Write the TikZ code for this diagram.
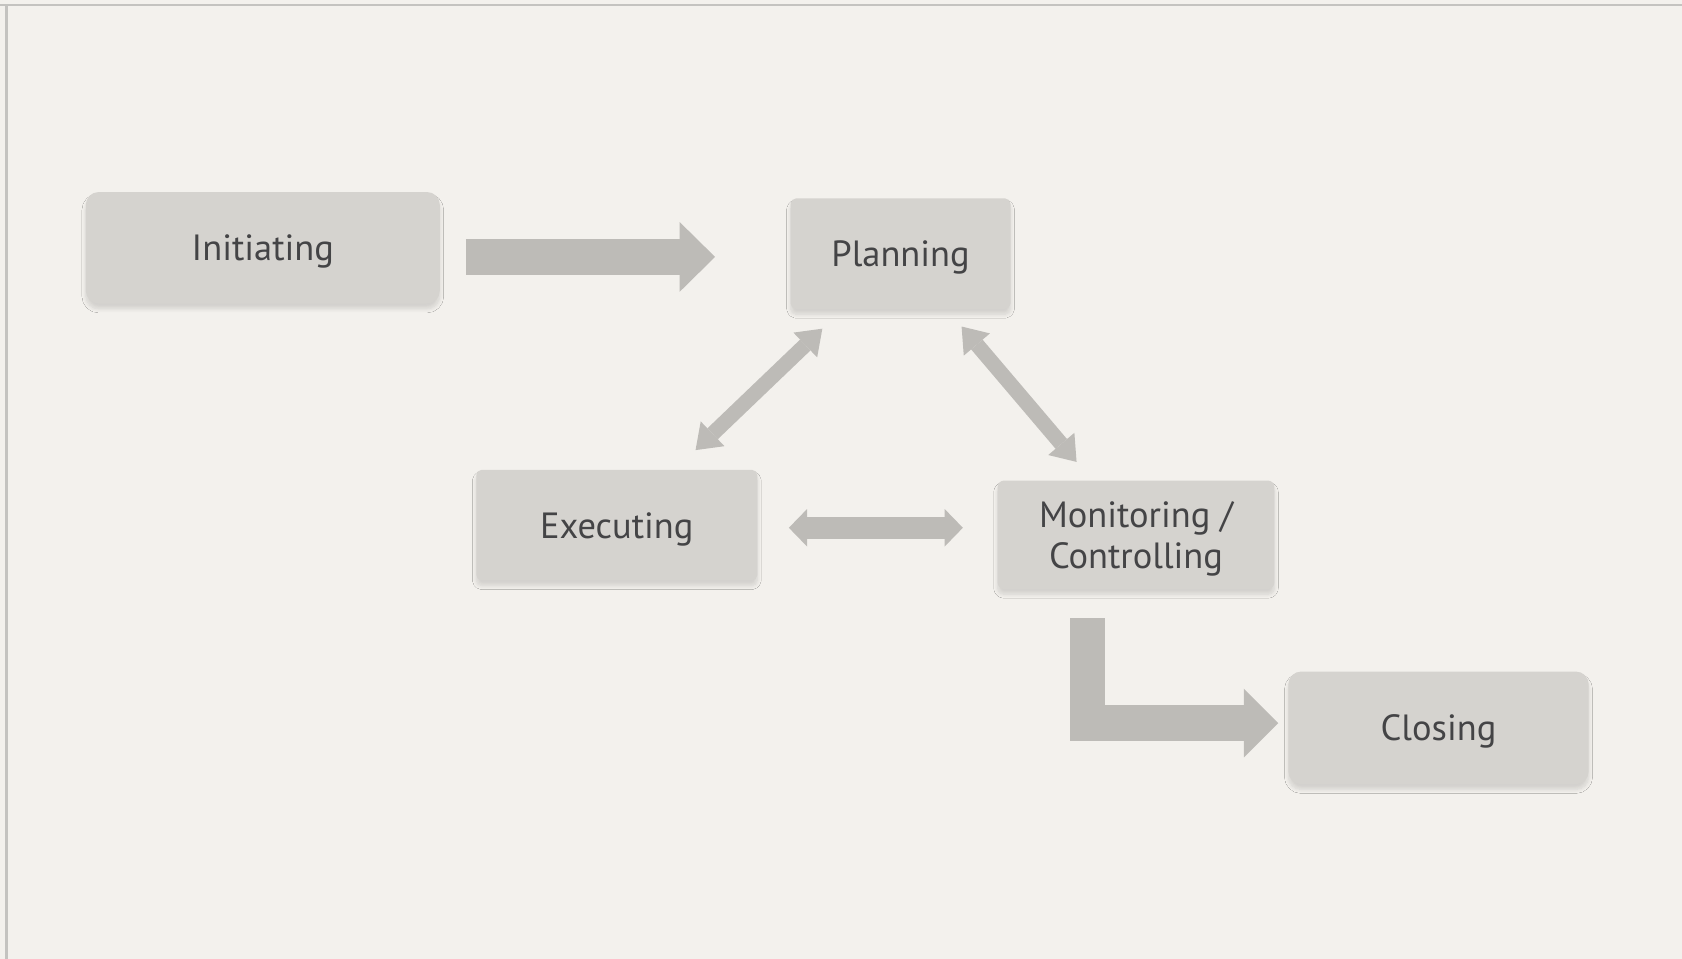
\documentclass[tikz,border=0pt]{standalone}
\usepackage{fontspec}
\setmainfont{PT Sans}
\usetikzlibrary{arrows.meta,shadows.blur,calc}
\definecolor{bgc}{HTML}{F3F1ED}
\definecolor{boxc}{HTML}{D5D3CF}
\definecolor{arrc}{HTML}{BDBBB7}
\definecolor{txtc}{HTML}{444446}
\definecolor{framec}{HTML}{C4C3C0}
\tikzset{
  stagebox/.style={fill=boxc, draw=none, inner sep=0pt, text=txtc, align=center,
    font=\fontsize{17pt}{19pt}\selectfont, text depth=0pt,
    blur shadow={shadow xshift=0pt, shadow yshift=-2.5pt, shadow blur radius=1.8pt, shadow opacity=13, shadow blur steps=6}},
  bigarrow/.style={draw=arrc, line width=16.5pt, line cap=butt, line join=miter,
    -{Triangle[length=16.5pt, width=32.5pt, line width=0pt]}},
  diagarrow/.style={draw=arrc, line width=7pt, line cap=butt,
    {Triangle[length=11pt, width=16pt, line width=0pt]}-{Triangle[length=11pt, width=16pt, line width=0pt]}},
  horizarrow/.style={draw=arrc, line width=10.5pt, line cap=butt,
    {Triangle[length=8.5pt, width=17.5pt, line width=0pt]}-{Triangle[length=8.5pt, width=17.5pt, line width=0pt]}},
}
\begin{document}
\begin{tikzpicture}[x=0.5pt, y=-0.5pt]
\useasboundingbox (0,0) rectangle (1568,894);
\fill[bgc] (0,0) rectangle (1568,894);
\draw[framec, line width=1pt] (0,5) -- (1568,5);
\draw[framec, line width=1pt] (6,5) -- (6,894);

\node[stagebox, rounded corners=6pt, minimum width=165pt, minimum height=52pt] (ini) at (245,231) {Initiating};
\node[stagebox, rounded corners=2.5pt, minimum width=102.5pt, minimum height=51.5pt] (plan) at (839.5,236.5) {Planning};
\node[stagebox, rounded corners=2.5pt, minimum width=131pt, minimum height=51.5pt] (exe) at (575,489.5) {Executing};
\node[stagebox, rounded corners=3pt, minimum width=129pt, minimum height=50.5pt] (mon) at (1059,498.5) {Monitoring /\\Controlling};
\node[stagebox, rounded corners=6pt, minimum width=140pt, minimum height=52.5pt] (clo) at (1341,678.5) {Closing};

\coordinate (a1s) at ([shift={(24,8.5)}]ini.east);
\coordinate (a1e) at ([shift={(-70,3)}]plan.west);
\draw[bigarrow] (a1s) -- (a1e);

\coordinate (pes) at ([shift={(30,18)}]plan.south west);
\coordinate (pee) at ([shift={(-58,-18)}]exe.north east);
\draw[diagarrow] (pes) -- (pee);

\coordinate (pms) at ([shift={(-46,16)}]plan.south east);
\coordinate (pme) at ([shift={(74,-17)}]mon.north west);
\draw[diagarrow] (pms) -- (pme);

\coordinate (ems) at ([shift={(29,2.5)}]exe.east);
\coordinate (eme) at ([shift={(-32,-6.5)}]mon.west);
\draw[horizarrow] (ems) -- (eme);

\coordinate (mcs) at ([shift={(-45,27)}]mon.south);
\coordinate (mce) at ([shift={(-9,-4.5)}]clo.west);
\draw[bigarrow, -{Triangle[length=16pt, width=32pt, line width=0pt]}] (mcs) |- (mce);
\end{tikzpicture}
\end{document}
